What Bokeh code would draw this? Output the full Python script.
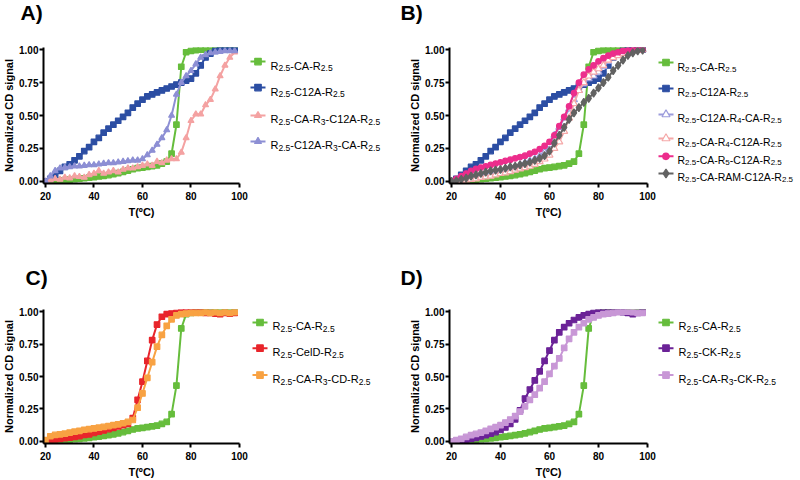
import re
from bokeh.plotting import figure
from bokeh.models import Range1d, FixedTicker, PrintfTickFormatter, ColumnDataSource
from bokeh.layouts import row, column
from bokeh.embed import file_html
from bokeh.resources import INLINE
from bokeh.core.properties import value

# ---------------- data ----------------
T = [20, 22, 24, 26, 28, 30, 32, 34, 36, 38, 40, 42, 44, 46, 48, 50, 52, 54, 56, 58,
     60, 62, 64, 66, 68, 70, 72, 74, 76, 78, 80, 82, 84, 86, 88, 90, 92, 94, 96, 98]

CA = [0.000, 0.002, 0.005, 0.008, 0.010, 0.013, 0.017, 0.020, 0.024, 0.028,
      0.032, 0.037, 0.042, 0.048, 0.055, 0.062, 0.072, 0.082, 0.092, 0.100,
      0.105, 0.110, 0.116, 0.122, 0.135, 0.150, 0.210, 0.430, 0.870, 0.980,
      0.990, 0.995, 1.000, 1.000, 1.000, 1.000, 1.000, 1.000, 1.000, 1.000]

C12A = [0.00, 0.02, 0.05, 0.08, 0.11, 0.13, 0.16, 0.19, 0.23, 0.26,
        0.30, 0.33, 0.37, 0.40, 0.43, 0.46, 0.49, 0.52, 0.56, 0.59,
        0.62, 0.645, 0.66, 0.675, 0.69, 0.705, 0.72, 0.735, 0.75, 0.765,
        0.78, 0.82, 0.88, 0.94, 0.97, 0.99, 1.00, 1.00, 1.00, 1.00]

CA_R3_C12A = [0.00, 0.01, 0.02, 0.015, 0.03, 0.025, 0.04, 0.035, 0.03, 0.05,
              0.06, 0.08, 0.06, 0.07, 0.08, 0.07, 0.09, 0.10, 0.10, 0.11,
              0.12, 0.13, 0.12, 0.15, 0.14, 0.16, 0.17, 0.17, 0.22, 0.33,
              0.46, 0.51, 0.51, 0.58, 0.62, 0.70, 0.80, 0.88, 0.94, 0.98]

C12A_R3_CA = [0.00, 0.04, 0.08, 0.10, 0.105, 0.11, 0.115, 0.115, 0.12, 0.125,
              0.125, 0.13, 0.135, 0.14, 0.14, 0.145, 0.15, 0.155, 0.16, 0.16,
              0.17, 0.20, 0.235, 0.28, 0.33, 0.39, 0.50, 0.66, 0.75, 0.80,
              0.84, 0.89, 0.94, 0.96, 0.975, 0.98, 0.985, 0.99, 0.99, 0.99]

C12A_R4_CA = [0.00, 0.005, 0.01, 0.015, 0.02, 0.03, 0.04, 0.05, 0.06, 0.07,
              0.08, 0.09, 0.10, 0.11, 0.125, 0.14, 0.155, 0.17, 0.19, 0.22,
              0.28, 0.35, 0.41, 0.48, 0.55, 0.62, 0.69, 0.74, 0.78, 0.80,
              0.83, 0.87, 0.91, 0.94, 0.965, 0.98, 0.99, 0.995, 1.00, 1.00]

CA_R4_C12A = [0.00, 0.00, 0.005, 0.01, 0.015, 0.02, 0.03, 0.035, 0.04, 0.05,
              0.06, 0.065, 0.075, 0.085, 0.095, 0.105, 0.115, 0.13, 0.15, 0.17,
              0.20, 0.25, 0.30, 0.38, 0.48, 0.59, 0.69, 0.75, 0.80, 0.83,
              0.855, 0.88, 0.92, 0.94, 0.955, 0.97, 0.98, 0.99, 0.995, 1.00]

CA_R5_C12A = [0.00, 0.02, 0.04, 0.06, 0.08, 0.095, 0.105, 0.115, 0.125, 0.135,
              0.145, 0.155, 0.165, 0.175, 0.185, 0.195, 0.21, 0.225, 0.245, 0.27,
              0.30, 0.35, 0.42, 0.49, 0.57, 0.67, 0.75, 0.81, 0.85, 0.88,
              0.91, 0.935, 0.955, 0.97, 0.98, 0.99, 0.995, 1.00, 1.00, 1.00]

CA_RAM_C12A = [0.00, 0.005, 0.015, 0.025, 0.04, 0.05, 0.06, 0.07, 0.08, 0.085,
               0.09, 0.10, 0.11, 0.115, 0.125, 0.135, 0.145, 0.16, 0.175, 0.195,
               0.23, 0.29, 0.35, 0.41, 0.47, 0.52, 0.56, 0.60, 0.63, 0.67,
               0.71, 0.75, 0.79, 0.84, 0.88, 0.92, 0.955, 0.975, 0.99, 0.995]

CELD = [0.00, 0.01, 0.015, 0.02, 0.025, 0.03, 0.035, 0.04, 0.05, 0.055,
        0.065, 0.075, 0.085, 0.095, 0.105, 0.115, 0.125, 0.135, 0.18, 0.32,
        0.46, 0.62, 0.78, 0.90, 0.96, 0.98, 0.985, 0.99, 0.995, 1.00,
        1.00, 1.00, 0.995, 0.99, 0.99, 0.985, 0.98, 0.99, 0.985, 0.99]

CA_R3_CD = [0.01, 0.04, 0.05, 0.055, 0.06, 0.068, 0.075, 0.082, 0.09, 0.095,
            0.10, 0.106, 0.112, 0.118, 0.125, 0.132, 0.14, 0.15, 0.165, 0.26,
            0.37, 0.49, 0.61, 0.73, 0.82, 0.89, 0.94, 0.97, 0.98, 0.985,
            0.99, 0.99, 0.99, 0.995, 0.99, 0.995, 0.99, 0.995, 0.99, 0.995]

CK = [0.00, 0.00, 0.005, 0.012, 0.02, 0.028, 0.038, 0.048, 0.06, 0.072,
      0.088, 0.108, 0.135, 0.17, 0.24, 0.33, 0.40, 0.47, 0.54, 0.62,
      0.70, 0.78, 0.84, 0.88, 0.91, 0.935, 0.955, 0.97, 0.98, 0.99,
      0.995, 1.00, 1.00, 1.00, 1.00, 0.995, 0.99, 0.98, 0.99, 1.00]

CA_R3_CK = [0.00, 0.01, 0.02, 0.035, 0.048, 0.058, 0.068, 0.082, 0.097, 0.11,
            0.125, 0.145, 0.168, 0.195, 0.23, 0.27, 0.32, 0.36, 0.41, 0.46,
            0.52, 0.58, 0.64, 0.72, 0.79, 0.84, 0.88, 0.91, 0.94, 0.955,
            0.97, 0.98, 0.985, 0.99, 0.995, 1.00, 1.00, 0.995, 0.99, 0.99]

LBL_CA = "R_{2.5}-CA-R_{2.5}"
LBL_C12A = "R_{2.5}-C12A-R_{2.5}"
LBL_CA_R3_C12A = "R_{2.5}-CA-R_{3}-C12A-R_{2.5}"
LBL_C12A_R3_CA = "R_{2.5}-C12A-R_{3}-CA-R_{2.5}"
LBL_C12A_R4_CA = "R_{2.5}-C12A-R_{4}-CA-R_{2.5}"
LBL_CA_R4_C12A = "R_{2.5}-CA-R_{4}-C12A-R_{2.5}"
LBL_CA_R5_C12A = "R_{2.5}-CA-R_{5}-C12A-R_{2.5}"
LBL_CA_RAM_C12A = "R_{2.5}-CA-RAM-C12A-R_{2.5}"
LBL_CELD = "R_{2.5}-CelD-R_{2.5}"
LBL_CA_R3_CD = "R_{2.5}-CA-R_{3}-CD-R_{2.5}"
LBL_CK = "R_{2.5}-CK-R_{2.5}"
LBL_CA_R3_CK = "R_{2.5}-CA-R_{3}-CK-R_{2.5}"

PANEL_TITLES = ["A)", "B)", "C)", "D)"]
X_TICKS = [20, 40, 60, 80, 100]
Y_TICKS = [0.0, 0.25, 0.5, 0.75, 1.0]
X_LABEL = "T(\u00baC)"
Y_LABEL = "Normalized CD signal"

# ---------------- styles ----------------
FONT = "Liberation Sans"
GREEN = "#66bd3c"
BLUE = "#2c4ea3"
SALMON = "#f4a2a2"
LAVENDER = "#8d8fd4"
LAV2 = "#9c9cdc"
SAL2 = "#f5a8a8"
MAGENTA = "#ec2d8c"
GREY = "#626262"
RED = "#e8252b"
ORANGE = "#f8a243"
PURPLE = "#6b2297"
LILAC = "#c897d6"

XR = (19.2, 100)
YR = (-0.016, 1.016)


def sty(y, label, color, marker, size=6, fill=None):
    return dict(y=y, label=label, color=color, marker=marker, size=size,
                fill=color if fill is None else fill)


PANEL_A = [sty(CA, LBL_CA, GREEN, "square", 5.5),
           sty(C12A, LBL_C12A, BLUE, "square", 5.5),
           sty(CA_R3_C12A, LBL_CA_R3_C12A, SALMON, "triangle", 6),
           sty(C12A_R3_CA, LBL_C12A_R3_CA, LAVENDER, "triangle", 6)]
PANEL_B = [sty(CA, LBL_CA, GREEN, "square", 5.5),
           sty(C12A, LBL_C12A, BLUE, "square", 5.5),
           sty(C12A_R4_CA, LBL_C12A_R4_CA, LAV2, "triangle", 7, "white"),
           sty(CA_R4_C12A, LBL_CA_R4_C12A, SAL2, "triangle", 7, "white"),
           sty(CA_R5_C12A, LBL_CA_R5_C12A, MAGENTA, "circle", 5.5),
           sty(CA_RAM_C12A, LBL_CA_RAM_C12A, GREY, "diamond", 8)]
PANEL_C = [sty(CA, LBL_CA, GREEN, "square", 5.5),
           sty(CELD, LBL_CELD, RED, "square", 5.5),
           sty(CA_R3_CD, LBL_CA_R3_CD, ORANGE, "square", 5.5)]
PANEL_D = [sty(CA, LBL_CA, GREEN, "square", 5.5),
           sty(CK, LBL_CK, PURPLE, "square", 5.5),
           sty(CA_R3_CK, LBL_CA_R3_CK, LILAC, "square", 5.5)]

# Arial / Liberation Sans advance widths (1/1000 em)
ADV = {"R": 722, "C": 722, "A": 667, "M": 833, "K": 667, "D": 722, "e": 556,
       "l": 222, "-": 333, ".": 278}
for d in "0123456789":
    ADV[d] = 556


def parse(lbl):
    parts = []
    pos = 0
    for m in re.finditer(r"_\{([^}]*)\}", lbl):
        if m.start() > pos:
            parts.append((lbl[pos:m.start()], False))
        parts.append((m.group(1), True))
        pos = m.end()
    if pos < len(lbl):
        parts.append((lbl[pos:], False))
    return parts


def make_header(height, xs, ys, titles):
    p = figure(width=800, height=height, x_range=Range1d(0, 800),
               y_range=Range1d(height, 0), x_axis_type=None, y_axis_type=None,
               toolbar_location=None, output_backend="svg", min_border=0,
               title=None)
    p.outline_line_color = None
    p.text(x=xs, y=ys, text=titles, text_font=value(FONT), text_font_style="bold",
           text_font_size="21px", text_baseline="middle", text_align="left",
           text_color="black")
    return p


def make_plot(series, width, height, left, top, bottom):
    p = figure(width=width, height=height, x_range=Range1d(*XR),
               y_range=Range1d(*YR), toolbar_location=None,
               output_backend="svg", min_border_left=left, min_border_right=9,
               min_border_top=top, min_border_bottom=bottom,
               x_axis_label=X_LABEL, y_axis_label=Y_LABEL)
    p.outline_line_color = None
    p.xgrid.visible = False
    p.ygrid.visible = False
    p.xaxis.ticker = FixedTicker(ticks=X_TICKS)
    p.yaxis.ticker = FixedTicker(ticks=Y_TICKS)
    p.yaxis.formatter = PrintfTickFormatter(format="%.2f")
    for ax in p.axis:
        ax.axis_line_width = 2
        ax.axis_line_color = "black"
        ax.major_tick_line_width = 2
        ax.major_tick_out = 4
        ax.major_tick_in = 0
        ax.minor_tick_line_color = None
        ax.major_label_text_font = FONT
        ax.major_label_text_font_style = "bold"
        ax.major_label_text_font_size = "10px"
        ax.major_label_text_color = "black"
        ax.axis_label_text_font = FONT
        ax.axis_label_text_font_style = "bold"
        ax.axis_label_text_font_size = "11px"
        ax.axis_label_text_color = "black"
    p.yaxis.major_label_standoff = 1
    p.yaxis.axis_label_standoff = 1
    p.xaxis.major_label_standoff = 4
    p.xaxis.axis_label_standoff = 3
    for s in series:
        p.line(T, s["y"], line_color=s["color"], line_width=2)
        p.scatter(T, s["y"], marker=s["marker"], size=s["size"],
                  fill_color=s["fill"], line_color=s["color"], line_width=1.2)
    return p


def make_legend(series, width, height, top, bottom, lx0, lx1, xt, rows, f, s, pxu):
    p = figure(width=width, height=height, x_range=Range1d(0, width),
               y_range=Range1d(*YR), x_axis_type=None, y_axis_type=None,
               toolbar_location=None, output_backend="svg", min_border_left=0,
               min_border_right=0, min_border_top=top, min_border_bottom=bottom,
               title=None)
    p.outline_line_color = None
    xs, ys, ts, fs = [], [], [], []
    for it, y in zip(series, rows):
        p.segment(x0=[lx0], y0=[y], x1=[lx1], y1=[y], line_color=it["color"], line_width=2)
        p.scatter([(lx0 + lx1) / 2], [y], marker=it["marker"], size=it["size"] + 1,
                  fill_color=it["fill"], line_color=it["color"], line_width=1.2)
        x = xt
        for txt, sub in parse(it["label"]):
            size = s if sub else f
            xs.append(x)
            ys.append(y - (6.5 if sub else 4.0) / pxu)
            ts.append(txt)
            fs.append(f"{size}px")
            x += sum(ADV.get(c, 556) for c in txt) * size / 1000.0
    src = ColumnDataSource(dict(x=xs, y=ys, text=ts, fs=fs))
    p.text(x="x", y="y", text="text", text_font_size="fs", source=src,
           text_font=value(FONT), text_baseline="alphabetic", text_align="left",
           text_color="black")
    return p


# header 1: 0..30, plots row 1: 30..240 (frame 47..183)
h1 = make_header(30, [20, 400], [12, 12], PANEL_TITLES[:2])
pA = make_plot(PANEL_A, 248, 210, 41, 17, 57)
lA = make_legend(PANEL_A, 150, 210, 17, 57, 2, 17, 22, [0.909, 0.712, 0.50, 0.303], 11, 8.5, 132)
pB = make_plot(PANEL_B, 258, 210, 51, 17, 57)
lB = make_legend(PANEL_B, 144, 210, 17, 57, 2, 17, 21,
                 [0.902, 0.705, 0.508, 0.326, 0.190, 0.060], 10.5, 8, 132)

# header 2: 240..296, plots row 2: 296..480 (frame 309..444)
h2 = make_header(56, [25, 400], [37, 37], PANEL_TITLES[2:])
pC = make_plot(PANEL_C, 248, 184, 41, 13, 36)
lC = make_legend(PANEL_C, 150, 184, 13, 36, 4, 19, 24, [0.916, 0.718, 0.511], 11, 8.5, 131)
pD = make_plot(PANEL_D, 258, 184, 51, 13, 36)
lD = make_legend(PANEL_D, 144, 184, 13, 36, 2, 17, 22, [0.916, 0.718, 0.511], 11, 8.5, 131)

layout = column(h1, row(pA, lA, pB, lB), h2, row(pC, lC, pD, lD))

open("out.html", "w").write(file_html(layout, INLINE))
